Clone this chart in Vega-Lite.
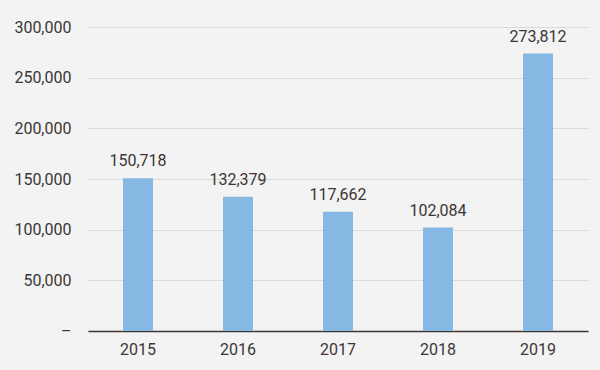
{
  "$schema": "https://vega.github.io/schema/vega-lite/v6.json",
  "width": 500,
  "height": 304,
  "autosize": {"type": "none"},
  "padding": {"left": 88, "top": 27, "right": 12, "bottom": 39},
  "background": "#f2f3f2",
  "config": {
    "view": {"stroke": null},
    "font": "Roboto",
    "axis": {"labelFont": "Roboto", "labelFontSize": 16, "labelColor": "#3d3636"}
  },
  "data": {
    "values": [
      {"year": "2015", "value": 150718},
      {"year": "2016", "value": 132379},
      {"year": "2017", "value": 117662},
      {"year": "2018", "value": 102084},
      {"year": "2019", "value": 273812}
    ]
  },
  "layer": [
    {
      "mark": {"type": "bar", "color": "#85b9e3"},
      "encoding": {
        "x": {
          "field": "year", "type": "ordinal",
          "scale": {"paddingInner": 0.7, "paddingOuter": 0.35},
          "axis": {"title": null, "labelAngle": 0, "ticks": false, "domainColor": "#3d3636", "domainWidth": 1.5, "labelPadding": 10}
        },
        "y": {
          "field": "value", "type": "quantitative",
          "scale": {"domain": [0, 300000]},
          "axis": {
            "title": null, "values": [0, 50000, 100000, 150000, 200000, 250000, 300000],
            "domain": false, "ticks": false, "gridColor": "#d9d9d9", "labelPadding": 17,
            "labelExpr": "datum.value == 0 ? '–' : format(datum.value, ',')"
          }
        }
      }
    },
    {
      "mark": {"type": "text", "dy": -17, "fontSize": 16, "color": "#3d3636", "font": "Roboto"},
      "encoding": {
        "x": {"field": "year", "type": "ordinal"},
        "y": {"field": "value", "type": "quantitative"},
        "text": {"field": "value", "type": "quantitative", "format": ","}
      }
    }
  ]
}
